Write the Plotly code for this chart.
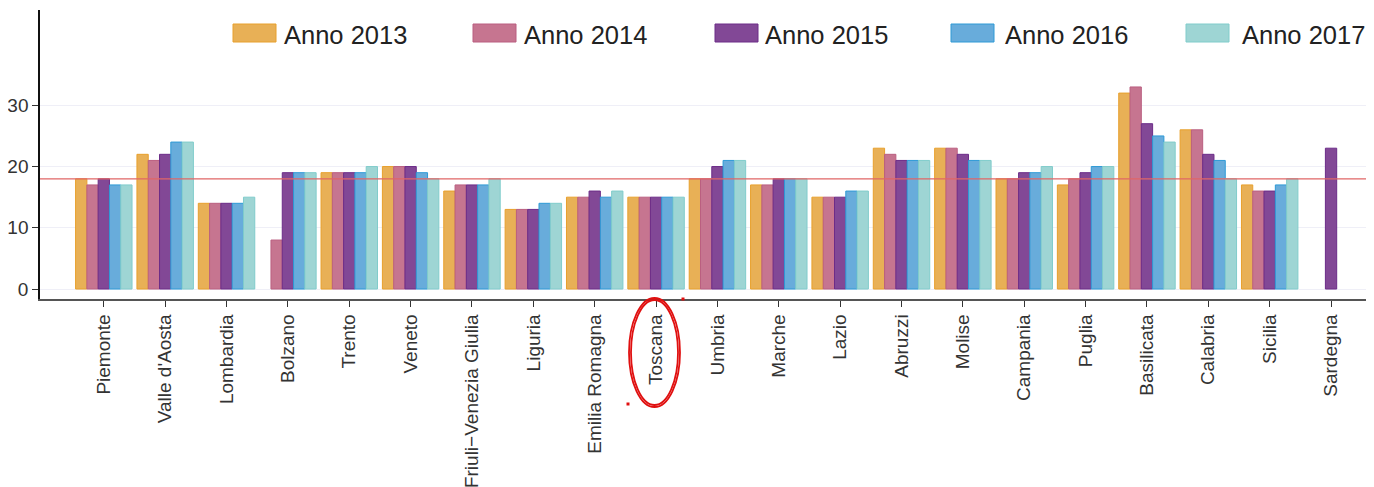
import plotly.graph_objects as go

regioni = ['Piemonte', "Valle d'Aosta", 'Lombardia', 'Bolzano', 'Trento', 'Veneto',
           'Friuli\u2212Venezia Giulia', 'Liguria', 'Emilia Romagna', 'Toscana', 'Umbria',
           'Marche', 'Lazio', 'Abruzzi', 'Molise', 'Campania', 'Puglia', 'Basilicata',
           'Calabria', 'Sicilia', 'Sardegna']

anno_2013 = [18, 22, 14, None, 19, 20, 16, 13, 15, 15, 18, 17, 15, 23, 23, 18, 17, 32, 26, 17, None]
anno_2014 = [17, 21, 14, 8, 19, 20, 17, 13, 15, 15, 18, 17, 15, 22, 23, 18, 18, 33, 26, 16, None]
anno_2015 = [18, 22, 14, 19, 19, 20, 17, 13, 16, 15, 20, 18, 15, 21, 22, 19, 19, 27, 22, 16, 23]
anno_2016 = [17, 24, 14, 19, 19, 19, 17, 14, 15, 15, 21, 18, 16, 21, 21, 19, 20, 25, 21, 17, None]
anno_2017 = [17, 24, 15, 19, 20, 18, 18, 14, 16, 15, 21, 18, 16, 21, 21, 20, 20, 24, 18, 18, None]

soglia = 18

serie = [
    ('Anno 2013', anno_2013, '#E8B056', '#E8A02C'),
    ('Anno 2014', anno_2014, '#C67590', '#BA5F80'),
    ('Anno 2015', anno_2015, '#824896', '#6C2C88'),
    ('Anno 2016', anno_2016, '#68ACDB', '#2E9AD6'),
    ('Anno 2017', anno_2017, '#9ED5D4', '#80CCCB'),
]

# page is 1374x487, the figure div sits 8px in from the top-left (body margin)
PAGE_W, PAGE_H, OFF = 1374, 487, 8
W, H = PAGE_W - OFF, PAGE_H - OFF
# plot area in page pixels
PL, PR, PT, PB = 40, 1374, 10, 299
FONT = 'Liberation Sans, Arial, sans-serif'


def px_x(p):
    return (p - PL) / (PR - PL)


def px_y(p):
    return (PB - p) / (PB - PT)


fig = go.Figure()
for nome, valori, colore, bordo in serie:
    fig.add_trace(go.Bar(x=list(range(len(regioni))), y=valori, name=nome,
                         marker=dict(color=colore, line=dict(color=bordo, width=1)),
                         showlegend=False))

shapes = [dict(type='line', xref='paper', yref='y', x0=0, x1=1, y0=soglia, y1=soglia,
               line=dict(color='#E06666', width=1.2))]
annotations = []

# legend drawn by hand (wide swatches)
sw_x = [233, 473, 715, 951, 1186]
tx_x = [282, 522, 763, 1003, 1240]
for (nome, _, colore, bordo), sx, tx in zip(serie, sw_x, tx_x):
    shapes.append(dict(type='rect', xref='paper', yref='paper',
                       x0=px_x(sx), x1=px_x(sx + 43), y0=px_y(42), y1=px_y(24),
                       fillcolor=colore, line=dict(color=bordo, width=1)))
    annotations.append(dict(xref='paper', yref='paper', x=px_x(tx), y=px_y(35),
                            text=nome, showarrow=False, xanchor='left', yanchor='middle',
                            font=dict(family=FONT, size=25.5, color='#222222')))

# hand-drawn red circle around Toscana
for dx, dy in [(0, 0), (2, 2)]:
    shapes.append(dict(type='circle', xref='paper', yref='paper',
                       x0=px_x(629 + dx), x1=px_x(680 - dx), y0=px_y(407 - dy), y1=px_y(298 + dy),
                       line=dict(color='#E01010', width=1.8)))
for cx, cy in [(683, 299), (628, 404)]:
    shapes.append(dict(type='rect', xref='paper', yref='paper',
                       x0=px_x(cx - 1.5), x1=px_x(cx + 1.5), y0=px_y(cy + 1.5), y1=px_y(cy - 1.5),
                       fillcolor='#E01010', line=dict(width=0)))

fig.update_layout(
    width=W, height=H,
    margin=dict(l=PL - OFF, r=PAGE_W - PR, t=PT - OFF, b=PAGE_H - PB),
    plot_bgcolor='white', paper_bgcolor='white',
    barmode='group', bargap=0.08, bargroupgap=0,
    font=dict(family=FONT, size=19, color='#333333'),
    shapes=shapes, annotations=annotations,
)
fig.update_xaxes(tickmode='array', tickvals=list(range(len(regioni))), ticktext=regioni,
                 tickangle=-90, range=[-1.04, 20.7], showgrid=False, zeroline=False,
                 showline=True, linecolor='#555555', linewidth=1.5, automargin=False,
                 ticks='outside', ticklen=6, tickcolor='#333333')
fig.update_yaxes(range=[-1.63, 45.57], tickvals=[0, 10, 20, 30], showgrid=True,
                 gridcolor='#EFEFF7', gridwidth=1, zeroline=False, automargin=False,
                 showline=True, linecolor='#111111', linewidth=1.5,
                 ticks='outside', ticklen=6, tickcolor='#333333')

fig.write_html('out.html')
